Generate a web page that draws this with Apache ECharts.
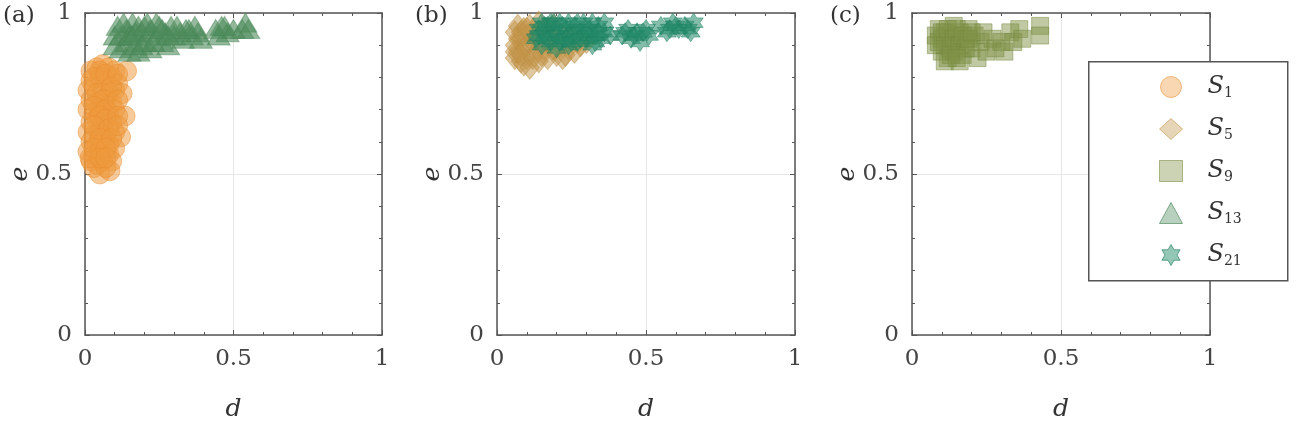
<!DOCTYPE html>
<html>
<head>
<meta charset="utf-8">
<script src="https://cdn.jsdelivr.net/npm/echarts@6/dist/echarts.min.js"></script>
<style>
  html, body { margin: 0; padding: 0; background: #fff; }
  #main { width: 1302px; height: 428px; }
</style>
</head>
<body>
<div id="main"></div>
<script>
(function () {
    'use strict';

    // [d, e] pairs
    var s1 = [
        [0.02, 0.82], [0.04, 0.83], [0.06, 0.84], [0.08, 0.83], [0.10, 0.82], [0.14, 0.82],
        [0.02, 0.79], [0.05, 0.80], [0.07, 0.79], [0.09, 0.80], [0.11, 0.78],
        [0.01, 0.76], [0.03, 0.77], [0.06, 0.76], [0.08, 0.75], [0.10, 0.76],
        [0.02, 0.73], [0.04, 0.72], [0.07, 0.73], [0.09, 0.72], [0.125, 0.75],
        [0.01, 0.70], [0.03, 0.69], [0.05, 0.70], [0.08, 0.69], [0.10, 0.70],
        [0.02, 0.66], [0.04, 0.67], [0.06, 0.66], [0.09, 0.66], [0.135, 0.68],
        [0.01, 0.63], [0.03, 0.62], [0.05, 0.63], [0.07, 0.62], [0.10, 0.63],
        [0.02, 0.60], [0.04, 0.59], [0.06, 0.60], [0.08, 0.59], [0.12, 0.615],
        [0.01, 0.57], [0.03, 0.56], [0.05, 0.57], [0.08, 0.56], [0.10, 0.58],
        [0.02, 0.54], [0.04, 0.53], [0.06, 0.54], [0.09, 0.54],
        [0.03, 0.52], [0.05, 0.50], [0.084, 0.51], [0.07, 0.52], [0.017, 0.55],
        [0.05, 0.82], [0.03, 0.80], [0.07, 0.81], [0.04, 0.75], [0.06, 0.73], [0.09, 0.77],
        [0.03, 0.71], [0.07, 0.70], [0.05, 0.68], [0.07, 0.67], [0.03, 0.65], [0.08, 0.64],
        [0.05, 0.61], [0.09, 0.61], [0.03, 0.58], [0.07, 0.58], [0.05, 0.55], [0.07, 0.55],
        [0.11, 0.73], [0.11, 0.68], [0.11, 0.65], [0.11, 0.81]
    ];
    var s13 = [
        [0.10, 0.90], [0.10, 0.93], [0.12, 0.93], [0.12, 0.89], [0.14, 0.95], [0.14, 0.91],
        [0.15, 0.88], [0.16, 0.97], [0.16, 0.93], [0.17, 0.90], [0.18, 0.96], [0.18, 0.88],
        [0.19, 0.94], [0.20, 0.91], [0.21, 0.97], [0.22, 0.95], [0.22, 0.89], [0.24, 0.93],
        [0.25, 0.96], [0.26, 0.91], [0.27, 0.94], [0.28, 0.90], [0.29, 0.96], [0.30, 0.93],
        [0.32, 0.94], [0.33, 0.92], [0.35, 0.95], [0.36, 0.93], [0.38, 0.94], [0.39, 0.92],
        [0.44, 0.95], [0.45, 0.93], [0.47, 0.96], [0.48, 0.94],
        [0.53, 0.95], [0.54, 0.97], [0.55, 0.95],
        [0.11, 0.96], [0.13, 0.97], [0.15, 0.93], [0.17, 0.94], [0.19, 0.90], [0.20, 0.96],
        [0.23, 0.91], [0.24, 0.97], [0.26, 0.95], [0.28, 0.93], [0.31, 0.96], [0.34, 0.95],
        [0.37, 0.96], [0.46, 0.96], [0.50, 0.95]
    ];
    var s5 = [
        [0.06, 0.94], [0.07, 0.96], [0.08, 0.92], [0.06, 0.90], [0.09, 0.95], [0.10, 0.93],
        [0.07, 0.88], [0.09, 0.89], [0.11, 0.96], [0.12, 0.91], [0.06, 0.86], [0.08, 0.85],
        [0.10, 0.86], [0.11, 0.83], [0.13, 0.88], [0.14, 0.85], [0.15, 0.94], [0.16, 0.89],
        [0.17, 0.86], [0.18, 0.92], [0.20, 0.87], [0.21, 0.90], [0.22, 0.86], [0.24, 0.89],
        [0.25, 0.93], [0.26, 0.88], [0.28, 0.90], [0.30, 0.91], [0.12, 0.94], [0.14, 0.97],
        [0.19, 0.96], [0.09, 0.84],
        [0.07, 0.92], [0.08, 0.94], [0.06, 0.88], [0.10, 0.90], [0.08, 0.87], [0.12, 0.86],
        [0.13, 0.92], [0.15, 0.87], [0.10, 0.95], [0.16, 0.95], [0.17, 0.91], [0.19, 0.89],
        [0.23, 0.87], [0.27, 0.91], [0.22, 0.93]
    ];
    var s21 = [
        [0.13, 0.92], [0.14, 0.95], [0.15, 0.90], [0.16, 0.93], [0.17, 0.96], [0.18, 0.91],
        [0.19, 0.94], [0.20, 0.89], [0.21, 0.97], [0.22, 0.92], [0.23, 0.95], [0.24, 0.90],
        [0.25, 0.93], [0.26, 0.96], [0.27, 0.91], [0.28, 0.94], [0.29, 0.97], [0.30, 0.92],
        [0.31, 0.95], [0.32, 0.90], [0.33, 0.93], [0.34, 0.96], [0.35, 0.92], [0.36, 0.94],
        [0.38, 0.93], [0.42, 0.93], [0.44, 0.95], [0.45, 0.92], [0.47, 0.94], [0.48, 0.91],
        [0.50, 0.95], [0.51, 0.93], [0.55, 0.96], [0.57, 0.94], [0.59, 0.97], [0.61, 0.95],
        [0.63, 0.96], [0.65, 0.94], [0.66, 0.97], [0.18, 0.97], [0.24, 0.97], [0.15, 0.97],
        [0.14, 0.93], [0.16, 0.96], [0.17, 0.92], [0.19, 0.97], [0.20, 0.93], [0.21, 0.91],
        [0.22, 0.96], [0.23, 0.92], [0.25, 0.91], [0.26, 0.94], [0.27, 0.97], [0.28, 0.92],
        [0.30, 0.95], [0.31, 0.93], [0.32, 0.97], [0.33, 0.91], [0.43, 0.94], [0.46, 0.93],
        [0.49, 0.94], [0.58, 0.95], [0.60, 0.96], [0.64, 0.95], [0.36, 0.97], [0.34, 0.94]
    ];
    var s9 = [
        [0.08, 0.93], [0.08, 0.90], [0.09, 0.95], [0.10, 0.88], [0.10, 0.92], [0.11, 0.94],
        [0.12, 0.90], [0.12, 0.86], [0.13, 0.93], [0.14, 0.96], [0.14, 0.88], [0.15, 0.91],
        [0.16, 0.94], [0.17, 0.87], [0.18, 0.92], [0.19, 0.95], [0.20, 0.89], [0.21, 0.93],
        [0.22, 0.86], [0.23, 0.91], [0.24, 0.94], [0.25, 0.88], [0.27, 0.92], [0.28, 0.89],
        [0.30, 0.91], [0.31, 0.88], [0.33, 0.94], [0.34, 0.91], [0.36, 0.95], [0.37, 0.92],
        [0.43, 0.96], [0.43, 0.93], [0.11, 0.85], [0.16, 0.85],
        [0.09, 0.91], [0.10, 0.94], [0.11, 0.90], [0.12, 0.95], [0.13, 0.89], [0.14, 0.92],
        [0.15, 0.95], [0.16, 0.90], [0.17, 0.93], [0.18, 0.89], [0.19, 0.92], [0.20, 0.94],
        [0.13, 0.87], [0.15, 0.86]
    ];
    var xTicks = [0, 0.5, 1];
    var panelNames = ['(a)', '(b)', '(c)'];
    var legendNames = ['S1', 'S5', 'S9', 'S13', 'S21'];

    var serif = '"DejaVu Serif", "Liberation Serif", serif';
    var axisColor = '#555';
    var star = 'path://M10 0 L12.89 5 L18.66 5 L15.77 10 L18.66 15 L12.89 15 L10 20 L7.11 15 L1.34 15 L4.23 10 L1.34 5 L7.11 5 Z';

    var grids = [
        { left: 85, top: 13, width: 297, height: 322 },
        { left: 497, top: 13, width: 298, height: 322 },
        { left: 912, top: 13, width: 298, height: 322 }
    ];

    function tickLabel(v) {
        return xTicks.indexOf(v) >= 0 ? String(v) : '';
    }

    var frameLine = { onZero: false, lineStyle: { color: axisColor, width: 1.5 } };
    var tick = { inside: true, length: 5, lineStyle: { color: axisColor } };
    var minor = { show: true, splitNumber: 5, length: 3, lineStyle: { color: axisColor } };
    var labelStyle = { formatter: tickLabel, fontFamily: serif, fontSize: 23, color: '#444', margin: 13 };
    var nameStyle = { fontFamily: serif, fontStyle: 'italic', fontSize: 25, color: '#333' };

    var xAxes = [], yAxes = [];
    grids.forEach(function (g, i) {
        // bottom / left axes carry the labels, top / right ones only close the box
        xAxes.push({
            gridIndex: i, type: 'value', min: 0, max: 1, interval: 0.5,
            name: 'd', nameLocation: 'middle', nameGap: 62, nameMoveOverlap: false, nameTextStyle: nameStyle,
            axisLine: frameLine, axisTick: tick, minorTick: minor, axisLabel: labelStyle,
            splitLine: { show: true, lineStyle: { color: '#e6e6e6', width: 1 } }
        });
        xAxes.push({
            gridIndex: i, type: 'value', min: 0, max: 1, interval: 0.5, position: 'top',
            axisLine: frameLine, axisTick: tick, minorTick: minor,
            axisLabel: { show: false }, splitLine: { show: false }
        });
        yAxes.push({
            gridIndex: i, type: 'value', min: 0, max: 1, interval: 0.5,
            name: 'e', nameLocation: 'middle', nameGap: 52, nameMoveOverlap: false, nameRotate: 90, nameTextStyle: nameStyle,
            axisLine: frameLine, axisTick: tick, minorTick: minor, axisLabel: labelStyle,
            splitLine: { show: true, lineStyle: { color: '#e6e6e6', width: 1 } }
        });
        yAxes.push({
            gridIndex: i, type: 'value', min: 0, max: 1, interval: 0.5, position: 'right',
            axisLine: frameLine, axisTick: tick, minorTick: minor,
            axisLabel: { show: false }, splitLine: { show: false }
        });
    });

    function scatter(name, data, grid, symbol, size, fill, edge) {
        return {
            name: name, type: 'scatter', data: data,
            xAxisIndex: grid * 2, yAxisIndex: grid * 2,
            symbol: symbol, symbolSize: size,
            itemStyle: { color: fill, borderColor: edge, borderWidth: 1 },
            emphasis: { disabled: true }
        };
    }

    var series = [
        scatter('S1', s1, 0, 'circle', 20, 'rgba(238,154,62,0.65)', 'rgba(232,140,45,0.6)'),
        scatter('S5', s5, 1, 'diamond', [19, 23], 'rgba(196,150,74,0.65)', 'rgba(186,140,62,0.6)'),
        scatter('S9', s9, 2, 'rect', 17, 'rgba(127,146,70,0.62)', 'rgba(116,136,60,0.6)'),
        scatter('S13', s13, 0, 'triangle', [23, 19], 'rgba(78,140,92,0.75)', 'rgba(70,132,84,0.6)'),
        scatter('S21', s21, 1, star, 19, 'rgba(34,137,104,0.7)', 'rgba(30,128,96,0.6)')
    ];

    // legend icons are drawn lighter, like a single marker in the reference
    var legendLook = {
        S1: { icon: 'circle', color: 'rgba(238,154,62,0.5)', edge: 'rgba(232,140,45,0.7)' },
        S5: { icon: 'diamond', color: 'rgba(196,150,74,0.5)', edge: 'rgba(186,140,62,0.7)' },
        S9: { icon: 'rect', color: 'rgba(127,146,70,0.5)', edge: 'rgba(116,136,60,0.7)' },
        S13: { icon: 'triangle', color: 'rgba(78,140,92,0.5)', edge: 'rgba(70,132,84,0.8)' },
        S21: { icon: star, color: 'rgba(34,137,104,0.6)', edge: 'rgba(30,128,96,0.8)' }
    };

    var option = {
        backgroundColor: '#fff',
        animation: false,
        title: panelNames.map(function (t, i) {
            return {
                text: t, left: [-2, 410, 825][i], top: 0,
                textStyle: { fontFamily: serif, fontWeight: 'normal', fontSize: 23, color: '#333' }
            };
        }),
        grid: grids,
        xAxis: xAxes,
        yAxis: yAxes,
        graphic: [{
            type: 'rect', left: 1088, top: 61, z: 10,
            shape: { width: 199, height: 219 },
            style: { fill: '#fff', stroke: '#555', lineWidth: 1.5 }
        }],
        legend: {
            orient: 'vertical', left: 1154, top: 70, z: 20,
            itemWidth: 23, itemHeight: 21, itemGap: 17,
            data: legendNames.map(function (n) {
                var l = legendLook[n];
                return { name: n, icon: l.icon, itemStyle: { color: l.color, borderColor: l.edge, borderWidth: 1 } };
            }),
            formatter: function (n) { return '{s|S}{sub|' + n.slice(1) + '}'; },
            textStyle: {
                padding: [0, 0, 0, 20],
                rich: {
                    s: { fontFamily: serif, fontStyle: 'italic', fontSize: 24, color: '#333', lineHeight: 26 },
                    sub: { fontFamily: serif, fontSize: 14, color: '#333', lineHeight: 26, verticalAlign: 'bottom', padding: [8, 0, 0, 0] }
                }
            }
        },
        series: series
    };

    var myChart = echarts.init(document.getElementById('main'));
    myChart.setOption(option);
    window.addEventListener('resize', function () {
        myChart.resize();
    });
})();
</script>
</body>
</html>
